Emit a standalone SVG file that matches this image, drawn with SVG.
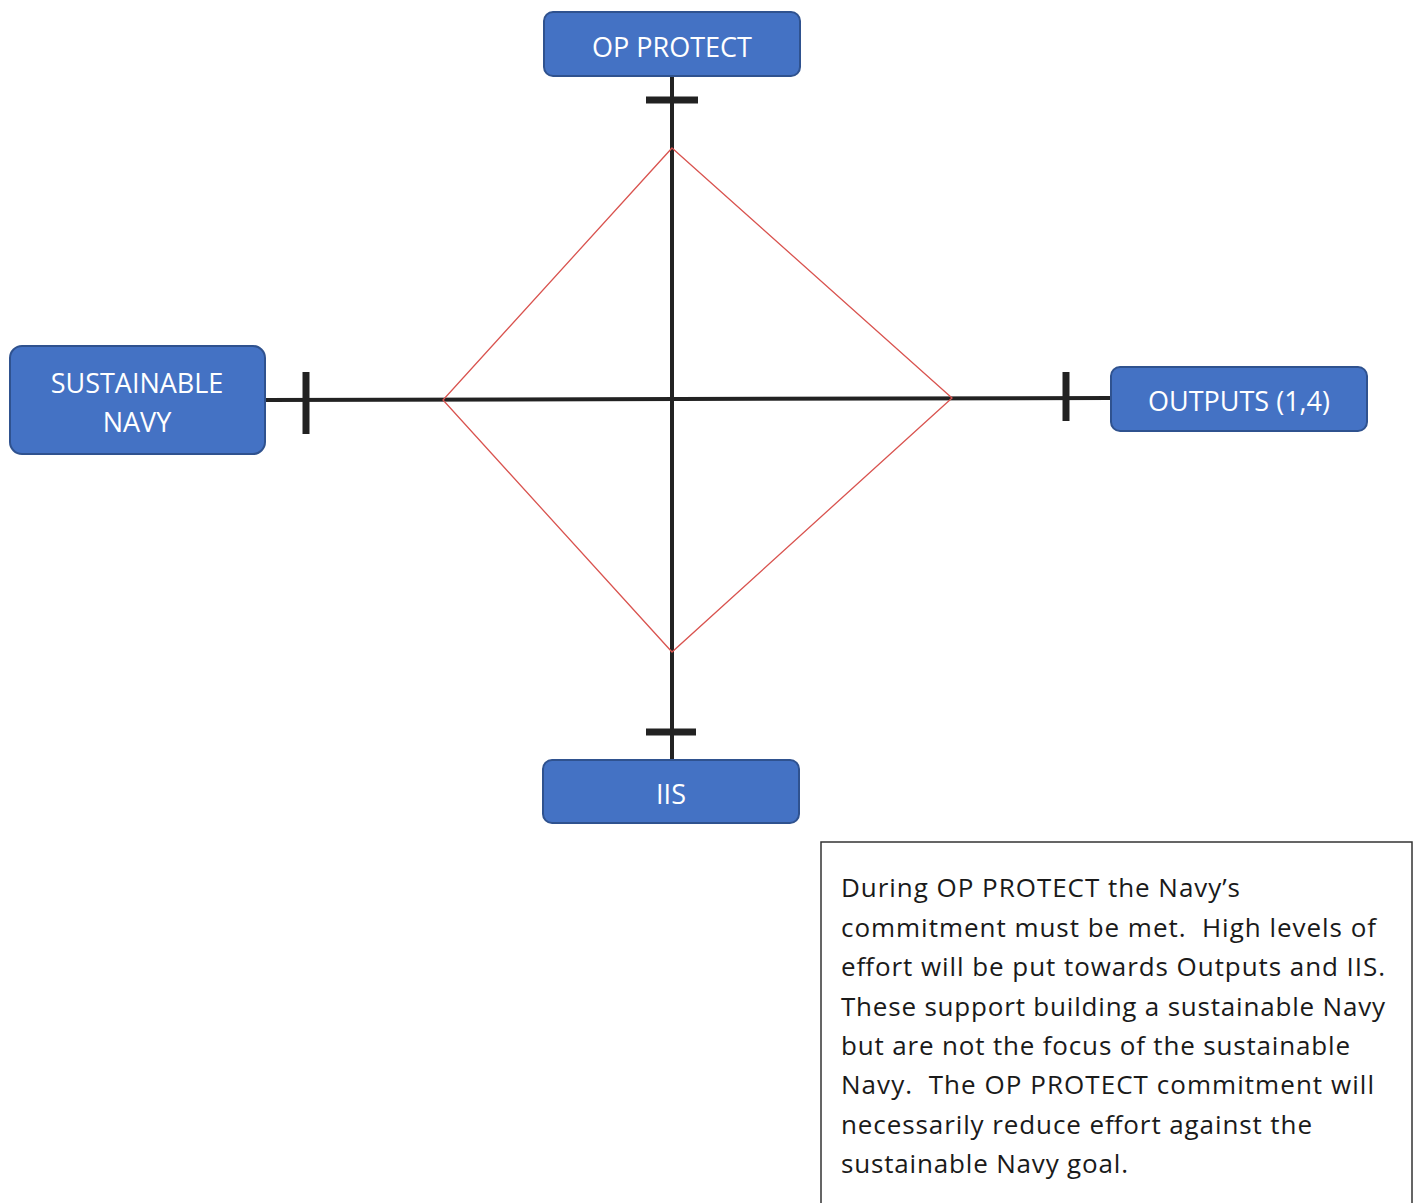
<svg xmlns="http://www.w3.org/2000/svg" width="1418" height="1203" viewBox="0 0 1418 1203">
<style>
.node rect{fill:#4472C4;stroke:#2F528F;stroke-width:2}
.node text{fill:#ffffff;font-family:"Open Sans","Liberation Sans",sans-serif;font-size:27px;text-anchor:middle}
.axis{stroke:#222;stroke-width:4;fill:none}
.tick{stroke:#222;stroke-width:7;fill:none}
.body{font-family:"Open Sans","Liberation Sans",sans-serif;font-size:26px;fill:#1a1a1a;white-space:pre}
</style>
<rect width="1418" height="1203" fill="#ffffff"/>
<g id="connectors">
<line class="axis" x1="672" y1="76" x2="672" y2="760"/>
<line class="axis" x1="265" y1="400" x2="1111" y2="398"/>
<line class="tick" x1="646" y1="100" x2="698" y2="100"/>
<line class="tick" x1="646" y1="732" x2="696" y2="732"/>
<line class="tick" x1="306" y1="372" x2="306" y2="434"/>
<line class="tick" x1="1066" y1="372" x2="1066" y2="421"/>
<polygon points="672,148 952,398 672,652 443,400" fill="none" stroke="#d9534f" stroke-width="1.3"/>
</g>
<g id="op-protect" class="node">
<rect x="544" y="12" width="256" height="64" rx="9"/>
<text x="672" y="57">OP PROTECT</text>
</g>
<g id="sustainable-navy" class="node">
<rect x="10" y="346" width="255" height="108" rx="12"/>
<text x="137" y="393">SUSTAINABLE</text>
<text x="137" y="432">NAVY</text>
</g>
<g id="outputs" class="node">
<rect x="1111" y="367" width="256" height="64" rx="9"/>
<text x="1239" y="411">OUTPUTS (1,4)</text>
</g>
<g id="iis" class="node">
<rect x="543" y="760" width="256" height="63" rx="9"/>
<text x="671" y="804">IIS</text>
</g>
<g id="note">
<rect x="821" y="842" width="591" height="370" fill="#ffffff" stroke="#333" stroke-width="1.5"/>
<text class="body" x="841" y="897" textLength="399" lengthAdjust="spacing">During OP PROTECT the Navy’s</text>
<text class="body" x="841" y="937" textLength="535" lengthAdjust="spacing" xml:space="preserve">commitment must be met.  High levels of</text>
<text class="body" x="841" y="976" textLength="544" lengthAdjust="spacing">effort will be put towards Outputs and IIS.</text>
<text class="body" x="841" y="1016" textLength="544" lengthAdjust="spacing">These support building a sustainable Navy</text>
<text class="body" x="841" y="1055" textLength="509" lengthAdjust="spacing">but are not the focus of the sustainable</text>
<text class="body" x="841" y="1094" textLength="533" lengthAdjust="spacing" xml:space="preserve">Navy.  The OP PROTECT commitment will</text>
<text class="body" x="841" y="1134" textLength="471" lengthAdjust="spacing">necessarily reduce effort against the</text>
<text class="body" x="841" y="1173" textLength="287" lengthAdjust="spacing">sustainable Navy goal.</text>
</g>
</svg>
